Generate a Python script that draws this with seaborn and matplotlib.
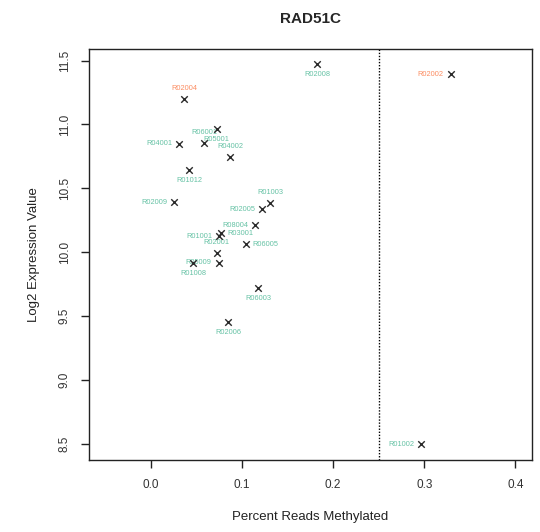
import matplotlib
matplotlib.use("Agg")
import matplotlib.pyplot as plt
import seaborn as sns
import pandas as pd

# ---- data ----
samples = ["R02008", "R02002", "R02004", "R05001", "R06001", "R04001", "R04002",
           "R01012", "R01003", "R02009", "R02005", "R08004", "R03001", "R01001",
           "R06005", "R02001", "R01008", "R05009", "R06003", "R02006", "R01002"]
pct_methylated = [0.1825, 0.329, 0.0364, 0.0721, 0.0583, 0.0309, 0.0867,
                  0.0419, 0.1307, 0.0255, 0.1224, 0.1143, 0.0765, 0.0752,
                  0.1042, 0.0721, 0.0466, 0.0743, 0.1176, 0.0845, 0.2968]
log2_expr = [11.470, 11.394, 11.201, 10.962, 10.852, 10.849, 10.747,
             10.643, 10.385, 10.393, 10.338, 10.213, 10.148, 10.127,
             10.064, 9.996, 9.918, 9.918, 9.722, 9.454, 8.497]
group = ["low", "high", "high", "low", "low", "low", "low",
         "low", "low", "low", "low", "low", "low", "low",
         "low", "low", "low", "low", "low", "low", "low"]
threshold = 0.25
x_ticks = [0.0, 0.1, 0.2, 0.3, 0.4]
y_ticks = [8.5, 9.0, 9.5, 10.0, 10.5, 11.0, 11.5]

# label placement (R-style pos codes: 1 below, 2 left, 3 above, 4 right)
label_pos = [1, 2, 3, 1, 3, 2, 3, 1, 3, 2, 2, 2, 4, 2, 4, 3, 1, 2, 1, 1, 2]

df = pd.DataFrame({"sample": samples, "x": pct_methylated, "y": log2_expr,
                   "group": group})

sns.set_style("white")
plt.rcParams["font.family"] = ["Liberation Sans", "DejaVu Sans"]

fig = plt.figure(figsize=(5.4, 5.32), dpi=100)
ax = fig.add_axes([89/540, 1-460/532, (531.7-89)/540, (460-49.3)/532])

sns.scatterplot(data=df, x="x", y="y", marker="x", color="#2a2a2a", s=22,
                linewidth=1.0, ax=ax, legend=False, zorder=3)

colors = {"low": "#66C2A5", "high": "#FC8D62"}
offsets = {1: ((0, -7.5), "center", "center"),
           2: ((-5, 0), "right", "center"),
           3: ((0, 7.5), "center", "center"),
           4: ((5, 0), "left", "center")}
for s, xv, yv, g, p in zip(samples, pct_methylated, log2_expr, group, label_pos):
    off, ha, va = offsets[p]
    ax.annotate(s, (xv, yv), xytext=off, textcoords="offset points",
                ha=ha, va=va, fontsize=5.3, color=colors[g], zorder=2)

ax.axvline(threshold, color="black", linestyle=(0, (1, 1.2)), linewidth=1.0)

ax.set_xlim(-0.068, 0.418)
ax.set_ylim(8.375, 11.588)
ax.set_xticks(x_ticks)
ax.set_xticklabels([f"{t:.1f}" for t in x_ticks])
ax.set_yticks(y_ticks)
ax.set_yticklabels([f"{t:.1f}" for t in y_ticks], rotation=90, va="center")

for sp in ax.spines.values():
    sp.set_visible(True)
    sp.set_color("#222222")
    sp.set_linewidth(1.0)

ax.tick_params(axis="both", which="major", direction="out", length=6,
               width=1.0, color="#222222", labelsize=8.5, labelcolor="#333333",
               bottom=True, left=True)
ax.tick_params(axis="x", pad=8)
ax.tick_params(axis="y", pad=7)

ax.set_xlabel("Percent Reads Methylated", fontsize=9.5, color="#222222",
              labelpad=14)
ax.set_ylabel("Log2 Expression Value", fontsize=9.5, color="#222222",
              labelpad=14)
ax.set_title("RAD51C", fontsize=11, fontweight="bold", pad=19)

fig.savefig("out.png", dpi=100)
